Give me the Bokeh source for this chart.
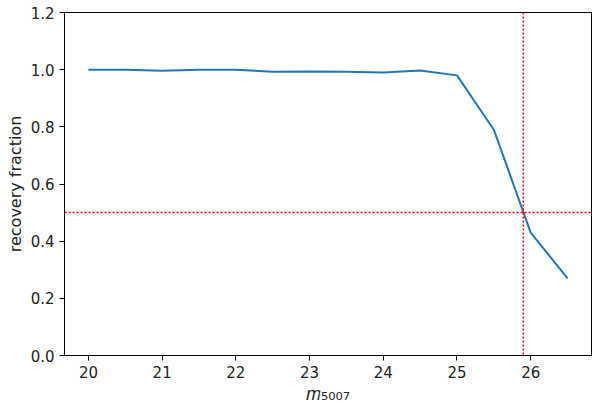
from bokeh.plotting import figure
from bokeh.models import Range1d, FixedTicker, PrintfTickFormatter, Span
from bokeh.embed import file_html
from bokeh.resources import INLINE

# data
mag = [20.0, 20.5, 21.0, 21.5, 22.0, 22.5, 23.0, 23.5, 24.0, 24.5, 25.0, 25.5, 26.0, 26.5]
recovery = [1.0, 1.0, 0.996, 1.0, 1.0, 0.993, 0.994, 0.993, 0.99, 0.997, 0.98, 0.79, 0.43, 0.27]
x_ticks = [20, 21, 22, 23, 24, 25, 26]
y_ticks = [0.0, 0.2, 0.4, 0.6, 0.8, 1.0, 1.2]
half_level = 0.5
limit_mag = 25.9
x_label = "\U0001D45A\u2085\u2080\u2080\u2087"   # italic m with subscript 5007
y_label = "recovery fraction"

p = figure(width=592, height=406, output_backend="svg", toolbar_location=None,
           x_range=Range1d(19.675, 26.825), y_range=Range1d(0, 1.2),
           min_border_left=64, min_border_right=1, min_border_top=12, min_border_bottom=51)
p.grid.visible = False
p.background_fill_color = "white"
p.border_fill_color = "white"
p.outline_line_color = "black"
p.outline_line_width = 1
p.outline_line_alpha = 1

p.line(mag, recovery, line_color="#1f77b4", line_width=2)

p.add_layout(Span(location=half_level, dimension="width", line_color="red",
                  line_dash="2 2", line_width=1.5))
p.add_layout(Span(location=limit_mag, dimension="height", line_color="red",
                  line_dash="2 2", line_width=1.5))

for ax in (p.xaxis[0], p.yaxis[0]):
    ax.axis_line_color = "black"
    ax.axis_line_width = 1
    ax.major_tick_line_color = "black"
    ax.major_tick_out = 5
    ax.major_tick_in = 0
    ax.minor_tick_out = 0
    ax.minor_tick_in = 0
    ax.major_label_text_font = "DejaVu Sans"
    ax.major_label_text_font_size = "15px"
    ax.major_label_text_color = "#222222"
    ax.major_label_standoff = 5
    ax.axis_label_text_font = "DejaVu Sans"
    ax.axis_label_text_font_size = "16px"
    ax.axis_label_text_font_style = "normal"
    ax.axis_label_text_color = "#222222"

p.xaxis[0].ticker = FixedTicker(ticks=x_ticks)
p.yaxis[0].ticker = FixedTicker(ticks=y_ticks)
p.yaxis[0].formatter = PrintfTickFormatter(format="%.1f")
p.yaxis[0].axis_label = y_label
p.yaxis[0].axis_label_standoff = 3
p.xaxis[0].axis_label = x_label
p.xaxis[0].axis_label_standoff = 2
p.xaxis[0].axis_label_text_font_size = "18px"

open("out.html", "w").write(file_html(p, INLINE))
